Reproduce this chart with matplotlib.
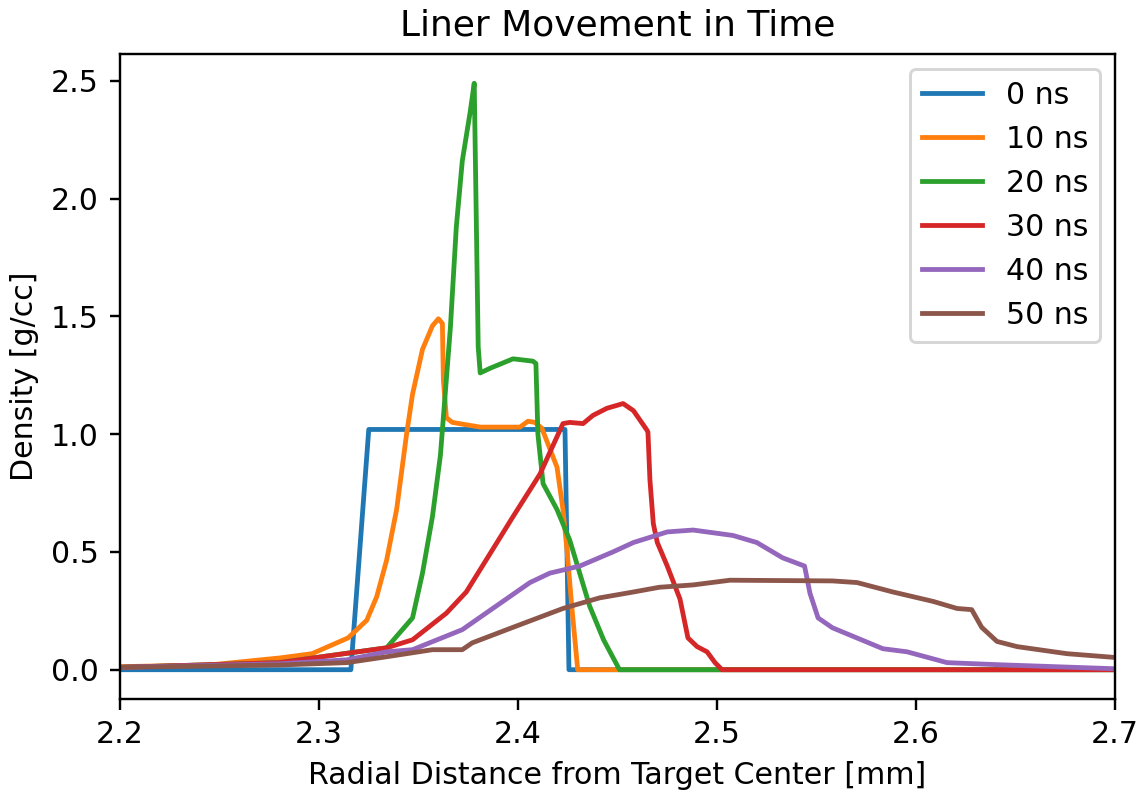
import matplotlib
matplotlib.use("Agg")
import matplotlib.pyplot as plt

# radial positions [mm] and densities [g/cc]
x_0ns = [2.2, 2.316, 2.325, 2.4236, 2.4256, 2.7]
d_0ns = [0.0, 0.0, 1.02, 1.02, 0.0, 0.0]

x_10ns = [2.2, 2.245, 2.2804, 2.2965, 2.3146, 2.324, 2.329, 2.334, 2.339, 2.344, 2.347, 2.352,
          2.357, 2.360, 2.362, 2.3625, 2.364, 2.367, 2.381, 2.401, 2.405, 2.4085, 2.412, 2.4196,
          2.4226, 2.4246, 2.427, 2.430, 2.7]
d_10ns = [0.013, 0.02, 0.05, 0.068, 0.135, 0.21, 0.31, 0.466, 0.68, 1.0, 1.17, 1.36,
          1.46, 1.49, 1.47, 1.23, 1.07, 1.05, 1.03, 1.03, 1.055, 1.05, 1.025, 0.86,
          0.68, 0.51, 0.27, 0.0, 0.0]

x_20ns = [2.2, 2.28, 2.334, 2.347, 2.352, 2.357, 2.361, 2.366, 2.369, 2.372, 2.376, 2.378,
          2.380, 2.381, 2.386, 2.3975, 2.4075, 2.409, 2.41, 2.4126, 2.4196, 2.426, 2.436,
          2.443, 2.451, 2.7]
d_20ns = [0.01, 0.03, 0.093, 0.22, 0.41, 0.65, 0.91, 1.45, 1.88, 2.16, 2.37, 2.49,
          1.37, 1.26, 1.28, 1.32, 1.31, 1.30, 1.0, 0.79, 0.68, 0.55, 0.27,
          0.127, 0.0, 0.0]

x_30ns = [2.2, 2.28, 2.334, 2.347, 2.364, 2.374, 2.384, 2.3975, 2.411, 2.4226, 2.426, 2.4327,
          2.4377, 2.4447, 2.4528, 2.458, 2.4648, 2.4653, 2.4663, 2.468, 2.470, 2.475, 2.4814,
          2.4854, 2.490, 2.495, 2.499, 2.5025, 2.7]
d_30ns = [0.01, 0.03, 0.093, 0.127, 0.24, 0.33, 0.466, 0.65, 0.83, 1.045, 1.05, 1.045,
          1.08, 1.11, 1.13, 1.10, 1.017, 1.008, 0.805, 0.62, 0.54, 0.44, 0.30,
          0.135, 0.098, 0.076, 0.03, 0.0, 0.0]

x_40ns = [2.2, 2.28, 2.314, 2.334, 2.347, 2.372, 2.389, 2.406, 2.416, 2.431, 2.4477, 2.458,
          2.475, 2.488, 2.508, 2.520, 2.533, 2.544, 2.5467, 2.5508, 2.558, 2.5834, 2.5955,
          2.6156, 2.642, 2.7]
d_40ns = [0.01, 0.025, 0.042, 0.076, 0.085, 0.17, 0.27, 0.37, 0.41, 0.44, 0.50, 0.54,
          0.585, 0.593, 0.57, 0.54, 0.475, 0.44, 0.325, 0.22, 0.178, 0.089, 0.076,
          0.03, 0.021, 0.004]

x_50ns = [2.2, 2.28, 2.314, 2.334, 2.357, 2.372, 2.377, 2.3975, 2.4226, 2.441, 2.458, 2.471,
          2.488, 2.5065, 2.558, 2.5704, 2.5884, 2.6086, 2.6206, 2.628, 2.633, 2.6407, 2.6508,
          2.6759, 2.7]
d_50ns = [0.01, 0.02, 0.03, 0.055, 0.085, 0.085, 0.114, 0.18, 0.26, 0.305, 0.33, 0.35,
          0.36, 0.38, 0.377, 0.37, 0.33, 0.29, 0.26, 0.255, 0.18, 0.12, 0.098,
          0.068, 0.052]

labels = ["0 ns", "10 ns", "20 ns", "30 ns", "40 ns", "50 ns"]
series = [(x_0ns, d_0ns), (x_10ns, d_10ns), (x_20ns, d_20ns),
          (x_30ns, d_30ns), (x_40ns, d_40ns), (x_50ns, d_50ns)]

dpi = 216
fig = plt.figure(figsize=(1143 / dpi, 793 / dpi), dpi=dpi)
ax = fig.add_axes([0.105, 0.1185, 0.8705, 0.8135])

for (xs, ds), lab in zip(series, labels):
    ax.plot(xs, ds, label=lab, lw=1.6)

ax.set_xlim(2.2, 2.7)
ax.set_title("Liner Movement in Time")
ax.set_xlabel("Radial Distance from Target Center [mm]")
ax.set_ylabel("Density [g/cc]")
ax.legend(loc="upper right")

fig.savefig("out.png", dpi=dpi)
